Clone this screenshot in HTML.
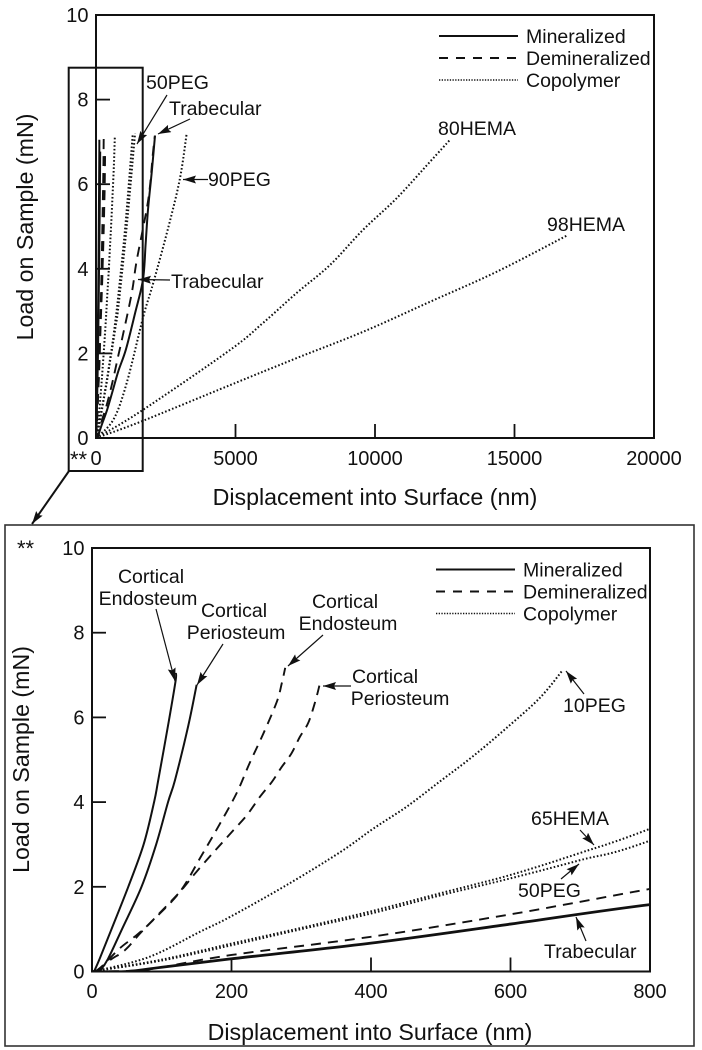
<!DOCTYPE html>
<html>
<head>
<meta charset="utf-8">
<title>Load vs displacement</title>
<style>
html,body{margin:0;padding:0;background:#fff}
svg{display:block}
text{font-family:"Liberation Sans",sans-serif;fill:#111;font-size:19.5px}
.tick{font-size:20px}
.title{font-size:23.2px}
</style>
</head>
<body>
<svg id="chart" xmlns="http://www.w3.org/2000/svg" width="702" height="1050" viewBox="0 0 702 1050">
<defs>
<marker id="ah" markerUnits="userSpaceOnUse" markerWidth="14" markerHeight="10" refX="13" refY="4" orient="auto"><path d="M0,0 L13,4 L0,8 L2,4 Z" fill="#111"/></marker>
<clipPath id="clip-bottom"><rect x="92" y="548" width="558" height="424"/></clipPath>
<clipPath id="clip-top"><rect x="96" y="15" width="558" height="424"/></clipPath>
</defs>
<g id="top-plot"></g>
<g id="bottom-plot"></g>

<g stroke="#111" stroke-width="1.2" fill="none">
<line x1="167" y1="95" x2="137" y2="144" marker-end="url(#ah)"/>
<line x1="190" y1="119" x2="158" y2="134" marker-end="url(#ah)"/>
<line x1="208" y1="179.5" x2="183" y2="179.5" marker-end="url(#ah)"/>
<line x1="170" y1="280" x2="138" y2="279.5" marker-end="url(#ah)"/>
<rect x="68.7" y="67.7" width="74" height="403.3" stroke-width="2"/>
<line x1="69" y1="471" x2="32" y2="524" stroke-width="2" marker-end="url(#ah)"/>
</g>
<text x="146" y="89">50PEG</text>
<text x="169" y="115">Trabecular</text>
<text x="208" y="186">90PEG</text>
<text x="171" y="288">Trabecular</text>
<text x="438" y="135">80HEMA</text>
<text x="547" y="231">98HEMA</text>
<text x="70" y="467" style="font-size:22px">**</text>

<rect x="5" y="525" width="689" height="521" fill="none" stroke="#333" stroke-width="1.6"/>
<text x="17" y="556" style="font-size:22px">**</text>
<g stroke="#111" stroke-width="1.2" fill="none">
<line x1="156" y1="609" x2="175" y2="681" marker-end="url(#ah)"/>
<line x1="223" y1="644" x2="197" y2="685" marker-end="url(#ah)"/>
<line x1="323" y1="635" x2="288" y2="666" marker-end="url(#ah)"/>
<line x1="351" y1="686" x2="323" y2="686" marker-end="url(#ah)"/>
<line x1="584" y1="694" x2="566" y2="671" marker-end="url(#ah)"/>
<line x1="580" y1="830" x2="594" y2="845" marker-end="url(#ah)"/>
<line x1="561" y1="879" x2="579" y2="864" marker-end="url(#ah)"/>
<line x1="586" y1="941" x2="576" y2="917" marker-end="url(#ah)"/>
</g>
<text text-anchor="middle"><tspan x="151" y="583">Cortical</tspan><tspan x="148" y="605">Endosteum</tspan></text>
<text text-anchor="middle"><tspan x="234" y="617">Cortical</tspan><tspan x="236" y="639">Periosteum</tspan></text>
<text text-anchor="middle"><tspan x="345" y="608">Cortical</tspan><tspan x="348" y="630">Endosteum</tspan></text>
<text text-anchor="middle"><tspan x="385" y="683">Cortical</tspan><tspan x="400" y="705">Periosteum</tspan></text>
<text x="563" y="712">10PEG</text>
<text x="531" y="825">65HEMA</text>
<text x="518" y="897">50PEG</text>
<text x="544" y="958">Trabecular</text>
</svg>

<script>
// Axis tick labels
const xTicksTop = [0, 5000, 10000, 15000, 20000];
const xTicksBottom = [0, 200, 400, 600, 800];
const yTicks = [0, 2, 4, 6, 8, 10];

// Legend entries
const legendNames = ['Mineralized', 'Demineralized', 'Copolymer'];

// Series: displacement (nm) and load (mN)
const endoMinX = [3, 11, 28, 52, 74, 89, 95, 110, 120, 120];
const endoMinY = [0, 0.3, 1, 2, 3, 4, 4.52, 5.9, 6.88, 7.05];
const perioMinX = [11, 23, 43, 71, 92, 109, 119, 138, 150];
const perioMinY = [0, 0.3, 1, 2, 3, 4, 4.52, 5.8, 6.77];
const endoDemX = [5, 16, 40, 64, 88, 126, 155, 181, 207, 226, 246, 265, 272, 277];
const endoDemY = [0, 0.15, 0.55, 0.86, 1.22, 1.88, 2.68, 3.42, 4.2, 4.92, 5.63, 6.37, 6.8, 7.17];
const perioDemX = [8, 26, 47, 69, 90, 126, 146, 167, 186, 203, 222, 241, 258, 272, 286, 298, 310, 320, 326];
const perioDemY = [0, 0.27, 0.5, 0.9, 1.26, 1.88, 2.28, 2.68, 3.03, 3.34, 3.69, 4.13, 4.48, 4.83, 5.15, 5.54, 5.87, 6.37, 6.75];
const trabMinX = [0, 50, 100, 200, 400, 600, 800, 1075, 1400, 1685, 1780, 1864, 2000, 2115];
const trabMinY = [0, 0, 0.1, 0.3, 0.67, 1.12, 1.58, 2.1, 2.95, 3.75, 4.6, 5.4, 6.3, 7.15];
const trabDemX = [0, 60, 100, 200, 400, 600, 800, 920, 1280, 1460, 1870, 2040, 2110];
const trabDemY = [0, 0.02, 0.1, 0.39, 0.82, 1.35, 1.95, 2.3, 3.42, 4.2, 5.62, 6.73, 7.15];
const peg10X = [0, 11, 83, 155, 198, 280, 356, 403, 451, 499, 546, 595, 642, 675];
const peg10Y = [0, 0.03, 0.35, 0.94, 1.29, 2.05, 2.82, 3.37, 3.89, 4.49, 5.08, 5.76, 6.46, 7.12];
const hema65X = [0, 100, 200, 300, 400, 500, 600, 700, 800, 1050, 1320];
const hema65Y = [0, 0.28, 0.66, 1.03, 1.42, 1.85, 2.28, 2.8, 3.37, 5, 7.2];
const peg50X = [0, 100, 200, 300, 400, 500, 600, 700, 800, 1100, 1400];
const peg50Y = [0, 0.26, 0.62, 1, 1.37, 1.8, 2.2, 2.63, 3.09, 5, 7.2];
const peg90X = [0, 620, 1100, 1695, 2050, 2600, 3010, 3250];
const peg90Y = [0, 0.43, 1.3, 2.87, 3.66, 5, 6.14, 7.2];
const hema80X = [0, 1580, 4803, 5986, 7194, 8387, 9570, 10778, 11971, 12688];
const hema80Y = [0, 0.62, 2.08, 2.72, 3.43, 4.09, 4.92, 5.67, 6.53, 7.05];
const hema98X = [0, 1580, 4803, 7194, 9570, 11971, 14362, 16918];
const hema98Y = [0, 0.38, 1.25, 1.89, 2.51, 3.22, 3.93, 4.8];

// name, x values, y values, line style, shown in zoomed plot
const seriesList = [
  ['cortical-endosteum-mineralized', endoMinX, endoMinY, 0, true],
  ['cortical-periosteum-mineralized', perioMinX, perioMinY, 0, true],
  ['cortical-endosteum-demineralized', endoDemX, endoDemY, 1, true],
  ['cortical-periosteum-demineralized', perioDemX, perioDemY, 1, true],
  ['trabecular-mineralized', trabMinX, trabMinY, 3, true],
  ['trabecular-demineralized', trabDemX, trabDemY, 1, true],
  ['copolymer-10peg', peg10X, peg10Y, 2, true],
  ['copolymer-65hema', hema65X, hema65Y, 2, true],
  ['copolymer-50peg', peg50X, peg50Y, 2, true],
  ['copolymer-90peg', peg90X, peg90Y, 2, false],
  ['copolymer-80hema', hema80X, hema80Y, 2, false],
  ['copolymer-98hema', hema98X, hema98Y, 2, false]
];

const NS = 'http://www.w3.org/2000/svg';
const STYLES = [
  {w: 2, dash: ''},
  {w: 1.9, dash: '10 7'},
  {w: 2, dash: '1.6 2.1'},
  {w: 2.8, dash: ''}
];
const LEGEND_STYLES = [
  {w: 2, dash: ''},
  {w: 2, dash: '9 8'},
  {w: 1.5, dash: '1.3 1.4'}
];

function mk(parent, tag, attrs, txt) {
  const el = document.createElementNS(NS, tag);
  for (const k in attrs) el.setAttribute(k, attrs[k]);
  if (txt !== undefined) el.textContent = txt;
  parent.appendChild(el);
  return el;
}

function smoothPath(pts) {
  let d = 'M' + pts[0][0].toFixed(2) + ',' + pts[0][1].toFixed(2);
  for (let i = 0; i < pts.length - 1; i++) {
    const p0 = pts[Math.max(i - 1, 0)];
    const p1 = pts[i];
    const p2 = pts[i + 1];
    const p3 = pts[Math.min(i + 2, pts.length - 1)];
    const c1x = p1[0] + (p2[0] - p0[0]) / 6;
    const c1y = p1[1] + (p2[1] - p0[1]) / 6;
    const c2x = p2[0] - (p3[0] - p1[0]) / 6;
    const c2y = p2[1] - (p3[1] - p1[1]) / 6;
    d += ' C' + c1x.toFixed(2) + ',' + c1y.toFixed(2) + ' ' + c2x.toFixed(2) + ',' + c2y.toFixed(2) + ' ' + p2[0].toFixed(2) + ',' + p2[1].toFixed(2);
  }
  return d;
}

function drawPlot(cfg) {
  const g = document.getElementById(cfg.id);
  const sx = v => cfg.left + (v / cfg.xMax) * cfg.w;
  const sy = v => cfg.bottom - (v / 10) * cfg.h;

  const curves = mk(g, 'g', {'clip-path': 'url(#' + cfg.clip + ')'});
  
  
  seriesList.forEach(s => {
    if (cfg.zoomed && !s[4]) return;
    const st = STYLES[s[3]];
    const width = (!cfg.zoomed && s[3] === 3) ? 2 : st.w;
    const pts = s[1].map((x, i) => [sx(x), sy(s[2][i])]);
    const p = mk(curves, 'path', {d: smoothPath(pts), fill: 'none', stroke: '#111', 'stroke-width': width, 'stroke-linejoin': 'round'});
    if (st.dash) p.setAttribute('stroke-dasharray', st.dash);
    
    
  });

  const frame = mk(g, 'rect', {x: cfg.left, y: cfg.bottom - cfg.h, width: cfg.w, height: cfg.h, fill: 'none', stroke: '#111', 'stroke-width': 2});
  
  

  cfg.xTicks.forEach(v => {
    if (v > 0 && v < cfg.xMax) {
      const t = mk(g, 'line', {x1: sx(v), x2: sx(v), y1: cfg.bottom, y2: cfg.bottom - 14, stroke: '#111', 'stroke-width': 1.8});
      
      
    }
    const l = mk(g, 'text', {x: sx(v), y: cfg.xLabelY, 'text-anchor': 'middle', class: 'tick'}, String(v));
    
    
  });
  yTicks.forEach(v => {
    if (v > 0 && v < 10) {
      const t = mk(g, 'line', {x1: cfg.left, x2: cfg.left + 14, y1: sy(v), y2: sy(v), stroke: '#111', 'stroke-width': 1.8});
      
      
    }
    const l = mk(g, 'text', {x: cfg.left - 7.5, y: sy(v) + 7, 'text-anchor': 'end', class: 'tick'}, String(v));
    
    
  });

  const xt = mk(g, 'text', {x: cfg.xTitleX, y: cfg.xTitleY, 'text-anchor': 'middle', class: 'title'}, 'Displacement into Surface (nm)');
  
  
  const yt = mk(g, 'text', {transform: 'translate(' + cfg.yTitleX + ',' + cfg.yTitleY + ') rotate(-90)', 'text-anchor': 'middle', class: 'title'}, 'Load on Sample (mN)');
  
  

  legendNames.forEach((name, i) => {
    const ly = cfg.legendY + i * 22;
    const st = LEGEND_STYLES[i];
    const sw = mk(g, 'line', {x1: cfg.legendX, x2: cfg.legendX + 79, y1: ly, y2: ly, stroke: '#111', 'stroke-width': st.w});
    if (st.dash) sw.setAttribute('stroke-dasharray', st.dash);
    
    
    const lt = mk(g, 'text', {x: cfg.legendX + 87, y: ly + 7}, name);
    
    
  });
}

drawPlot({id: 'top-plot', clip: 'clip-top', zoomed: false, left: 96, bottom: 438, w: 558, h: 423, xMax: 20000, xTicks: xTicksTop,
  xLabelY: 465, xTitleX: 375, xTitleY: 505, yTitleX: 33, yTitleY: 227, legendX: 439, legendY: 36});
drawPlot({id: 'bottom-plot', clip: 'clip-bottom', zoomed: true, left: 92, bottom: 971.5, w: 558, h: 423.5, xMax: 800, xTicks: xTicksBottom,
  xLabelY: 998, xTitleX: 370, xTitleY: 1040, yTitleX: 29, yTitleY: 759.5, legendX: 436, legendY: 569.5});
</script>
</body>
</html>
